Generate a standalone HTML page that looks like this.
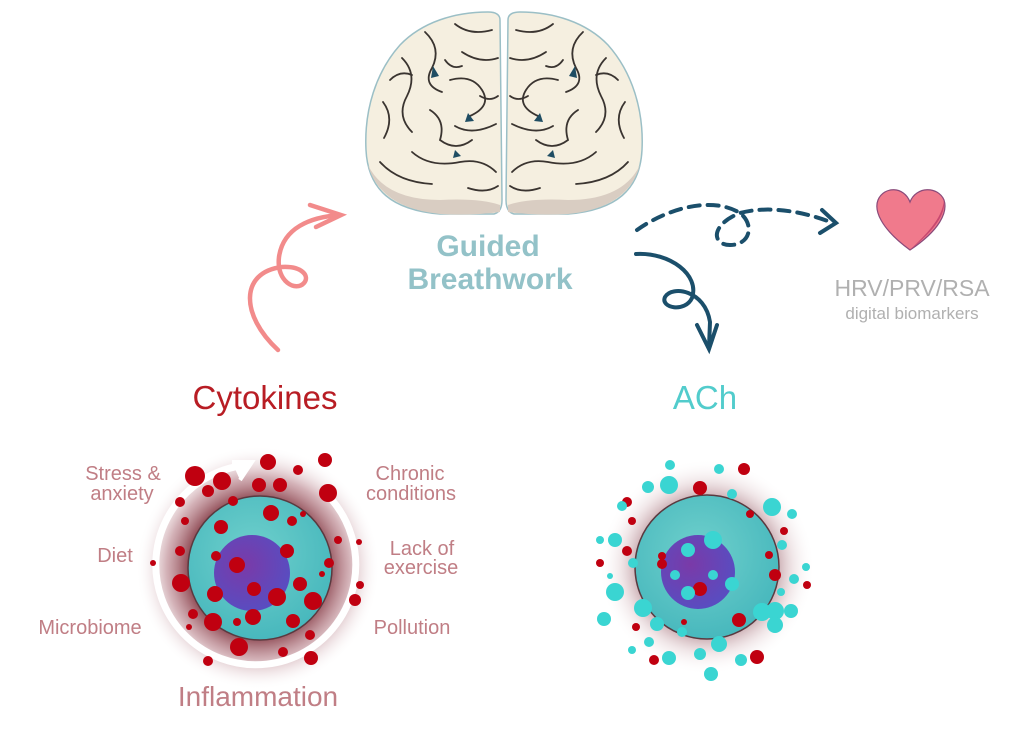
<!DOCTYPE html>
<html><head><meta charset="utf-8"><style>
html,body{margin:0;padding:0;background:#fff;width:1024px;height:736px;overflow:hidden}
svg{display:block}
text{font-family:"Liberation Sans",sans-serif}
</style></head><body>
<svg width="1024" height="736" viewBox="0 0 1024 736" xmlns="http://www.w3.org/2000/svg">
<defs>
<radialGradient id="glow" cx="50%" cy="50%" r="50%">
<stop offset="0.55" stop-color="#7a2a35" stop-opacity="0.9"/>
<stop offset="0.75" stop-color="#a86570" stop-opacity="0.5"/>
<stop offset="1" stop-color="#fff" stop-opacity="0"/>
</radialGradient>
<radialGradient id="glow2" cx="50%" cy="50%" r="50%">
<stop offset="0.6" stop-color="#8a4a55" stop-opacity="0.6"/>
<stop offset="0.8" stop-color="#d0b0b5" stop-opacity="0.3"/>
<stop offset="1" stop-color="#fff" stop-opacity="0"/>
</radialGradient>
<radialGradient id="teal" cx="45%" cy="40%" r="60%">
<stop offset="0" stop-color="#6fd0cc"/><stop offset="1" stop-color="#48b8bd"/>
</radialGradient>
<radialGradient id="nuc" cx="40%" cy="40%" r="60%">
<stop offset="0" stop-color="#7a3aa8"/><stop offset="1" stop-color="#5a4cc0"/>
</radialGradient>
<g id="hemi">
<path d="M500,20 Q500,12 488,12 C455,12 422,22 400,45 C376,72 364,110 366,150 C368,190 392,210 440,214 L494,214 Q502,212 502,200 Z" fill="#f5efe0" stroke="#9bbfc6" stroke-width="1.5"/>
<path d="M368,165 Q385,200 440,200 Q480,198 500,205 L500,212 Q470,216 440,214 Q380,208 368,165Z" fill="#d9cdc2"/>
<g fill="none" stroke="#3a3430" stroke-width="1.8" stroke-linecap="round">
<path d="M455,24 Q470,36 492,30"/><path d="M425,32 Q442,48 432,68 Q422,85 442,92"/>
<path d="M402,58 Q418,74 407,96 Q396,116 412,132"/><path d="M383,102 Q395,118 384,138"/>
<path d="M462,52 Q480,64 498,58"/><path d="M450,80 Q472,74 482,90 Q492,106 470,116"/>
<path d="M430,110 Q446,120 440,140 Q456,152 472,140"/><path d="M412,152 Q430,168 460,162 Q482,158 496,172"/>
<path d="M380,162 Q398,182 432,184"/><path d="M468,188 Q486,194 498,186"/>
<path d="M455,126 Q472,136 496,124"/><path d="M480,96 Q490,102 498,96"/>
<path d="M390,80 Q400,70 412,75"/><path d="M445,60 Q452,70 462,66"/>
</g>
<g fill="#1f4d63"><path d="M433,66 l6,10 l-8,2z"/><path d="M468,113 l6,8 l-9,1z"/><path d="M455,150 l6,6 l-8,2z"/></g>
</g>
</defs>

<use href="#hemi"/>
<use href="#hemi" transform="translate(1008,0) scale(-1,1)"/>

<text x="488" y="256" text-anchor="middle" font-size="30" font-weight="bold" fill="#93c2c8">Guided</text>
<text x="490" y="289" text-anchor="middle" font-size="30" font-weight="bold" fill="#93c2c8">Breathwork</text>

<g fill="none" stroke="#f28b8b" stroke-width="4.5" stroke-linecap="round">
<path d="M278,350 C240,315 240,272 282,267 C302,266 310,276 304,283 C296,292 276,282 279,257 C283,228 310,217 340,215"/>
<path d="M310,205 L341,215 L316,227"/>
</g>

<g fill="none" stroke="#1b4f6b" stroke-width="4" stroke-linecap="round">
<path d="M637,230 C665,210 710,195 740,213 C755,225 750,245 730,245 C712,245 710,225 740,213 C770,205 805,212 833,223" stroke-dasharray="11,8"/>
<path d="M822,210 L836,223 L820,233"/>
</g>
<g fill="none" stroke="#1b4f6b" stroke-width="4" stroke-linecap="round">
<path d="M636,254 C670,252 700,275 692,298 C685,313 660,308 665,297 C672,285 705,290 710,322 L709,347"/>
<path d="M697,325 L709,349 L717,325"/>
</g>

<path d="M910,250 C880,228 874,210 878,200 C884,186 904,186 910,202 C916,186 938,186 944,200 C948,212 940,230 910,250Z" fill="#f07a8c" stroke="#8a4a7a" stroke-width="1.2"/>
<path d="M910,250 C935,230 946,214 944,200 C942,220 925,235 910,250Z" fill="#c84870"/>
<text x="912" y="296" text-anchor="middle" font-size="23" fill="#b0b0b0">HRV/PRV/RSA</text>
<text x="912" y="319" text-anchor="middle" font-size="17" fill="#b0b0b0">digital biomarkers</text>

<text x="265" y="409" text-anchor="middle" font-size="33" fill="#b81d24">Cytokines</text>
<text x="705" y="409" text-anchor="middle" font-size="33" fill="#52cccc">ACh</text>

<circle cx="258" cy="568" r="122" fill="url(#glow)"/>
<path d="M240,466 A100,100 0 1 0 332,500" fill="none" stroke="#fff" stroke-width="7"/>
<path d="M232,462 L252,462 L240,480" fill="#fff" stroke="#fff" stroke-width="4"/>
<circle cx="260" cy="568" r="72" fill="url(#teal)" stroke="#5a3a40" stroke-width="1.5"/>
<circle cx="252" cy="573" r="38" fill="url(#nuc)"/>
<g fill="#c00010">
<circle cx="195" cy="476" r="10"/><circle cx="222" cy="481" r="9"/><circle cx="268" cy="462" r="8"/><circle cx="325" cy="460" r="7"/><circle cx="298" cy="470" r="5"/><circle cx="328" cy="493" r="9"/>
<circle cx="208" cy="491" r="6"/><circle cx="180" cy="502" r="5"/><circle cx="259" cy="485" r="7"/><circle cx="280" cy="485" r="7"/><circle cx="233" cy="501" r="5"/>
<circle cx="271" cy="513" r="8"/><circle cx="221" cy="527" r="7"/><circle cx="185" cy="521" r="4"/><circle cx="292" cy="521" r="5"/><circle cx="303" cy="514" r="3"/>
<circle cx="180" cy="551" r="5"/><circle cx="153" cy="563" r="3"/><circle cx="216" cy="556" r="5"/><circle cx="237" cy="565" r="8"/><circle cx="287" cy="551" r="7"/><circle cx="338" cy="540" r="4"/><circle cx="359" cy="542" r="3"/>
<circle cx="181" cy="583" r="9"/><circle cx="215" cy="594" r="8"/><circle cx="254" cy="589" r="7"/><circle cx="277" cy="597" r="9"/><circle cx="300" cy="584" r="7"/><circle cx="313" cy="601" r="9"/><circle cx="329" cy="563" r="5"/><circle cx="360" cy="585" r="4"/><circle cx="322" cy="574" r="3"/>
<circle cx="193" cy="614" r="5"/><circle cx="213" cy="622" r="9"/><circle cx="253" cy="617" r="8"/><circle cx="237" cy="622" r="4"/><circle cx="293" cy="621" r="7"/><circle cx="355" cy="600" r="6"/><circle cx="189" cy="627" r="3"/>
<circle cx="239" cy="647" r="9"/><circle cx="283" cy="652" r="5"/><circle cx="310" cy="635" r="5"/><circle cx="311" cy="658" r="7"/><circle cx="208" cy="661" r="5"/>
</g>
<g font-size="20" fill="#c07e85" text-anchor="middle">
<text x="123" y="480">Stress &amp;</text><text x="122" y="500">anxiety</text>
<text x="115" y="562">Diet</text>
<text x="90" y="634">Microbiome</text>
<text x="410" y="480">Chronic</text><text x="411" y="500">conditions</text>
<text x="422" y="555">Lack of</text><text x="421" y="574">exercise</text>
<text x="412" y="634">Pollution</text>
</g>
<text x="258" y="706" text-anchor="middle" font-size="28" fill="#c07e85">Inflammation</text>

<circle cx="707" cy="567" r="108" fill="url(#glow2)"/>
<circle cx="707" cy="567" r="72" fill="url(#teal)" stroke="#5a3a40" stroke-width="1.5"/>
<circle cx="698" cy="572" r="37" fill="url(#nuc)"/>
<g fill="#c00010">
<circle cx="744" cy="469" r="6"/><circle cx="700" cy="488" r="7"/><circle cx="627" cy="502" r="5"/><circle cx="632" cy="521" r="4"/><circle cx="750" cy="514" r="4"/>
<circle cx="784" cy="531" r="4"/><circle cx="627" cy="551" r="5"/><circle cx="662" cy="556" r="4"/><circle cx="662" cy="564" r="5"/><circle cx="600" cy="563" r="4"/>
<circle cx="769" cy="555" r="4"/><circle cx="775" cy="575" r="6"/><circle cx="807" cy="585" r="4"/><circle cx="700" cy="589" r="7"/><circle cx="739" cy="620" r="7"/><circle cx="636" cy="627" r="4"/><circle cx="684" cy="622" r="3"/>
<circle cx="757" cy="657" r="7"/><circle cx="654" cy="660" r="5"/>
</g>
<g fill="#3ad5d2">
<circle cx="670" cy="465" r="5"/><circle cx="719" cy="469" r="5"/><circle cx="648" cy="487" r="6"/><circle cx="669" cy="485" r="9"/><circle cx="732" cy="494" r="5"/>
<circle cx="622" cy="506" r="5"/><circle cx="772" cy="507" r="9"/><circle cx="792" cy="514" r="5"/>
<circle cx="713" cy="540" r="9"/><circle cx="688" cy="550" r="7"/><circle cx="600" cy="540" r="4"/><circle cx="615" cy="540" r="7"/><circle cx="633" cy="563" r="5"/>
<circle cx="782" cy="545" r="5"/><circle cx="675" cy="575" r="5"/><circle cx="713" cy="575" r="5"/><circle cx="732" cy="584" r="7"/><circle cx="688" cy="593" r="7"/>
<circle cx="610" cy="576" r="3"/><circle cx="615" cy="592" r="9"/><circle cx="806" cy="567" r="4"/><circle cx="794" cy="579" r="5"/><circle cx="781" cy="592" r="4"/>
<circle cx="643" cy="608" r="9"/><circle cx="657" cy="624" r="7"/><circle cx="762" cy="612" r="9"/><circle cx="775" cy="611" r="9"/><circle cx="791" cy="611" r="7"/><circle cx="604" cy="619" r="7"/>
<circle cx="682" cy="632" r="5"/><circle cx="649" cy="642" r="5"/><circle cx="719" cy="644" r="8"/><circle cx="632" cy="650" r="4"/><circle cx="669" cy="658" r="7"/><circle cx="700" cy="654" r="6"/><circle cx="741" cy="660" r="6"/><circle cx="711" cy="674" r="7"/><circle cx="775" cy="625" r="8"/>
</g>
</svg>
</body></html>
